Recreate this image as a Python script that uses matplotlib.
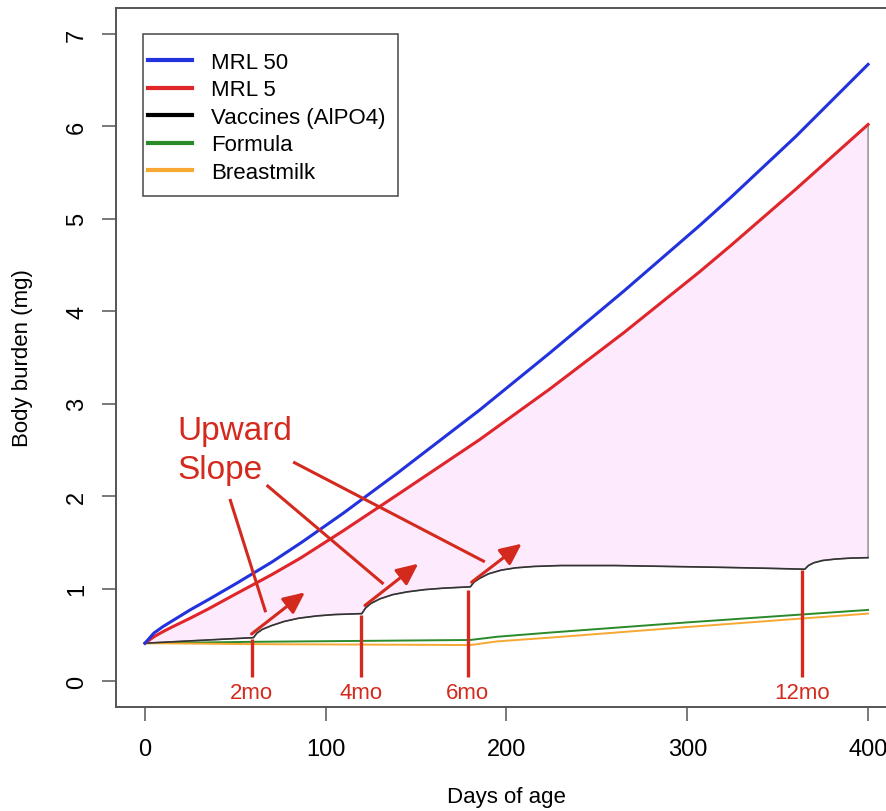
import numpy as np
import matplotlib
matplotlib.use('Agg')
import matplotlib.pyplot as plt
from matplotlib.patches import Rectangle
from matplotlib.lines import Line2D

plt.rcParams['font.family'] = ['Liberation Sans', 'DejaVu Sans']

# body burden (mg) vs days of age
mrl50_days = [0, 5, 10, 15, 25, 35, 50, 70, 87, 110, 140, 185, 224, 265, 307, 324, 360, 400]
mrl50_vals = [0.41, 0.52, 0.59, 0.65, 0.77, 0.88, 1.05, 1.285, 1.505, 1.82, 2.255, 2.93, 3.55, 4.22, 4.93, 5.23, 5.89, 6.67]

mrl5_days = [0, 5, 10, 15, 25, 35, 50, 70, 86, 110, 140, 185, 224, 265, 307, 324, 360, 400]
mrl5_vals = [0.41, 0.48, 0.535, 0.585, 0.68, 0.78, 0.94, 1.15, 1.33, 1.63, 2.02, 2.61, 3.16, 3.77, 4.43, 4.71, 5.32, 6.02]

vacc_days = [0, 20, 40, 60, 62, 65, 70, 77, 85, 95, 105, 120, 122, 125, 130, 137, 145, 155, 165, 180,
             182, 185, 190, 197, 205, 215, 230, 260, 290, 320, 345, 365, 367, 370, 375, 382, 390, 400]
vacc_vals = [0.41, 0.43, 0.45, 0.47, 0.52, 0.56, 0.60, 0.645, 0.68, 0.705, 0.72, 0.73, 0.79, 0.84, 0.89, 0.935, 0.965, 0.99, 1.005, 1.02,
             1.07, 1.11, 1.16, 1.20, 1.225, 1.24, 1.25, 1.25, 1.24, 1.23, 1.22, 1.21, 1.25, 1.28, 1.305, 1.32, 1.33, 1.335]

formula_days = [0, 60, 120, 180, 195, 224, 300, 400]
formula_vals = [0.41, 0.425, 0.435, 0.445, 0.48, 0.525, 0.635, 0.77]

milk_days = [0, 60, 120, 180, 195, 224, 300, 400]
milk_vals = [0.41, 0.40, 0.395, 0.39, 0.43, 0.47, 0.585, 0.73]

# vaccine dose markers
dose_days = [59, 119.5, 178.5, 363.7]
dose_tops = [0.46, 0.71, 0.99, 1.20]
dose_labels = ['2mo', '4mo', '6mo', '12mo']

# "Upward Slope" pointer lines and arrows
pointer_start = [(47, 1.97), (67.3, 2.12), (82, 2.37)]
pointer_end = [(66.8, 0.745), (132, 1.05), (188, 1.29)]
arrow_start = [(59, 0.51), (121.7, 0.818), (180.7, 1.07)]
arrow_end = [(88.5, 0.96), (151.2, 1.27), (208.4, 1.486)]

blue = '#2233dd'
red = '#e0262b'
green = '#2a8a2a'
orange = '#f7a832'
ann = '#d42a1e'

fig = plt.figure(figsize=(8.86, 8.12), dpi=100)
ax = fig.add_axes([116 / 886, 104 / 812, 781 / 886, 699 / 812])

ax.fill(np.r_[mrl5_days, vacc_days[::-1]], np.r_[mrl5_vals, vacc_vals[::-1]],
        facecolor='#fdeafd', edgecolor='#888888', lw=1.0, zorder=1)

ax.plot(formula_days, formula_vals, color=green, lw=1.4, zorder=2)
ax.plot(milk_days, milk_vals, color=orange, lw=1.4, zorder=2)
ax.plot(vacc_days, vacc_vals, color='#333333', lw=1.2, zorder=2)
ax.plot(mrl5_days, mrl5_vals, color=red, lw=2.2, zorder=3)
ax.plot(mrl50_days, mrl50_vals, color=blue, lw=2.2, zorder=3)

# annotations
for (x0, y0), (x1, y1) in zip(pointer_start, pointer_end):
    ax.plot([x0, x1], [y0, y1], color=ann, lw=2.2, zorder=4, solid_capstyle='butt')
for (x0, y0), (x1, y1) in zip(arrow_start, arrow_end):
    ax.annotate('', xy=(x1, y1), xytext=(x0, y0),
                arrowprops=dict(arrowstyle='-|>,head_length=1.3,head_width=0.6',
                                color=ann, lw=2.2, shrinkA=0, shrinkB=0), zorder=4)
for d, top, lab in zip(dose_days, dose_tops, dose_labels):
    ax.plot([d, d], [top, 0.04], color=ann, lw=2.4, zorder=4, solid_capstyle='butt')
    ax.text(d, -0.12, lab, color=ann, fontsize=16, ha='center', va='center', zorder=4)

ax.text(18, 2.88, 'Upward\nSlope', color=ann, fontsize=24, ha='left', va='top',
        linespacing=1.35, zorder=4)

ax.set_xlim(-16, 416)
ax.set_ylim(-0.28, 7.28)
ax.set_xticks([0, 100, 200, 300, 400])
ax.set_yticks(range(8))
for lab in ax.get_yticklabels():
    lab.set_rotation(90)
    lab.set_va('center')
ax.tick_params(length=10, width=1.1, color='#555555', labelsize=17, pad=12)
ax.tick_params(axis='y', pad=10)
for s in ax.spines.values():
    s.set_color('#555555')
    s.set_linewidth(1.4)
ax.spines['right'].set_visible(False)

ax.set_xlabel('Days of age', fontsize=16)
ax.set_ylabel('Body burden (mg)', fontsize=16)
ax.xaxis.set_label_coords(0.5, -0.113)
ax.yaxis.set_label_coords(-0.106, 0.5)

# legend box drawn by hand, as R does
ax.add_patch(Rectangle((27.3 / 781, 1 - 162.3 / 699 - 26 / 699), 255 / 781, 162.3 / 699,
                       transform=ax.transAxes, facecolor='white', edgecolor='#555555',
                       lw=1.2, zorder=5))
handles = [Line2D([], [], color=c, lw=3) for c in [blue, red, 'black', green, orange]]
names = ['MRL 50', 'MRL 5', 'Vaccines (AlPO4)', 'Formula', 'Breastmilk']
leg = ax.legend(handles, names, loc='upper left', bbox_to_anchor=(32 / 781, 1 - 44 / 699),
                frameon=False, fontsize=16, handlelength=2.0, handletextpad=0.85,
                labelspacing=0.29, borderpad=0, borderaxespad=0)
leg.set_zorder(6)

fig.savefig('out.png', dpi=100)
